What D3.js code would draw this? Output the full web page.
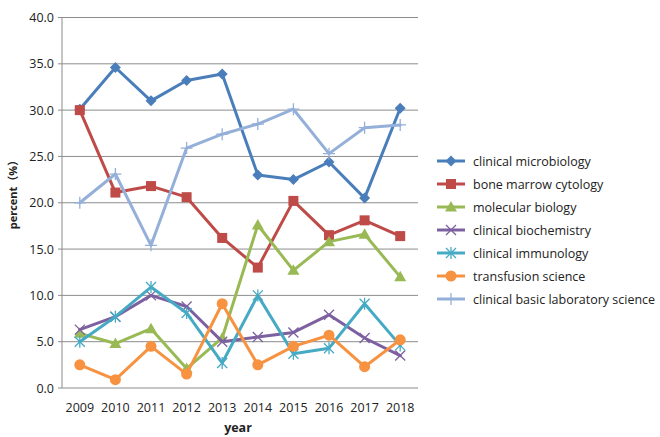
<!DOCTYPE html>
<html>
<head>
<meta charset="utf-8">
<script src="https://cdn.jsdelivr.net/npm/d3@7"></script>
<style>
  body { margin: 0; background: #fff; }
  text { font-family: "Open Sans", "DejaVu Sans", sans-serif; fill: #222; }
</style>
</head>
<body>
<div id="chart"></div>
<script>
// years on the x axis
var years = [2009, 2010, 2011, 2012, 2013, 2014, 2015, 2016, 2017, 2018];
var yTicks = [0, 5, 10, 15, 20, 25, 30, 35, 40];

// series values (percent)
var microbiology   = [30.1, 34.6, 31.0, 33.2, 33.9, 23.0, 22.5, 24.4, 20.5, 30.2];
var boneMarrow     = [30.0, 21.1, 21.8, 20.6, 16.2, 13.0, 20.2, 16.5, 18.1, 16.4];
var molecular      = [5.9, 4.8, 6.4, 2.1, 5.4, 17.6, 12.7, 15.8, 16.6, 12.0];
var biochemistry   = [6.3, 7.7, 10.0, 8.8, 5.0, 5.5, 6.0, 7.9, 5.4, 3.5];
var immunology     = [5.0, 7.7, 10.9, 8.1, 2.7, 10.0, 3.7, 4.3, 9.1, 4.6];
var transfusion    = [2.5, 0.9, 4.5, 1.5, 9.1, 2.5, 4.5, 5.7, 2.3, 5.2];
var basicLab       = [20.0, 23.1, 15.4, 25.9, 27.4, 28.5, 30.1, 25.3, 28.1, 28.4];

var seriesNames = ["clinical microbiology", "bone marrow cytology", "molecular biology",
  "clinical biochemistry", "clinical immunology", "transfusion science",
  "clinical basic laboratory science"];
var seriesValues = [microbiology, boneMarrow, molecular, biochemistry, immunology, transfusion, basicLab];
var colors = ["#4A7EBB", "#BE4B48", "#98B954", "#7D60A0", "#46AAC5", "#F69240", "#94B0D9"];
var markers = ["diamond", "square", "triangle", "x", "star", "circle", "plus"];

var W = 660, H = 437;
var plotL = 62, plotR = 418, plotT = 17.5, plotB = 388;

var svg = d3.select("#chart").append("svg").attr("width", W).attr("height", H);

var x = d3.scaleBand().domain(years).range([plotL, plotR]);
var y = d3.scaleLinear().domain([0, 40]).range([plotB, plotT]);

// gridlines
svg.selectAll(".grid").data(yTicks).enter().append("line")
  .attr("x1", plotL).attr("x2", plotR)
  .attr("y1", function (d) { return y(d); }).attr("y2", function (d) { return y(d); })
  .attr("stroke", "#8c8c8c").attr("stroke-width", 1);

// y axis line
svg.append("line").attr("x1", plotL).attr("x2", plotL).attr("y1", plotT).attr("y2", plotB)
  .attr("stroke", "#8c8c8c").attr("stroke-width", 1);
// small tick marks left of axis
svg.selectAll(".ytick").data(yTicks).enter().append("line")
  .attr("x1", plotL - 4).attr("x2", plotL)
  .attr("y1", function (d) { return y(d); }).attr("y2", function (d) { return y(d); })
  .attr("stroke", "#8c8c8c");

// y tick labels
svg.selectAll(".ylab").data(yTicks).enter().append("text")
  .attr("x", plotL - 8).attr("y", function (d) { return y(d) + 4.5; })
  .attr("text-anchor", "end").attr("font-size", 12.5)
  .text(function (d) { return d3.format(".1f")(d); });

// x tick labels
svg.selectAll(".xlab").data(years).enter().append("text")
  .attr("x", function (d) { return x(d) + x.bandwidth() / 2; }).attr("y", 412)
  .attr("text-anchor", "middle").attr("font-size", 12.5)
  .text(function (d) { return d; });

// axis titles
svg.append("text").attr("x", 238).attr("y", 432).attr("text-anchor", "middle")
  .attr("font-size", 12.5).attr("font-weight", "bold").text("year");
svg.append("text").attr("transform", "translate(17,192) rotate(-90)")
  .attr("text-anchor", "middle").attr("font-size", 11).attr("font-weight", "bold")
  .style("font-family", "'Open Sans', 'Noto Sans CJK SC', sans-serif")
  .text("percent（%）");

function drawMarker(g, type, color, cx, cy) {
  if (type === "diamond") {
    g.append("path").attr("d", "M" + cx + "," + (cy - 5.5) + "L" + (cx + 5.5) + "," + cy + "L" + cx + "," + (cy + 5.5) + "L" + (cx - 5.5) + "," + cy + "Z")
      .attr("fill", color);
  } else if (type === "square") {
    g.append("rect").attr("x", cx - 5).attr("y", cy - 5).attr("width", 10).attr("height", 10).attr("fill", color);
  } else if (type === "triangle") {
    g.append("path").attr("d", "M" + cx + "," + (cy - 6) + "L" + (cx + 6) + "," + (cy + 4.5) + "L" + (cx - 6) + "," + (cy + 4.5) + "Z")
      .attr("fill", color);
  } else if (type === "circle") {
    g.append("circle").attr("cx", cx).attr("cy", cy).attr("r", 5.5).attr("fill", color);
  } else if (type === "x" || type === "star") {
    var s = 5;
    g.append("path").attr("d", "M" + (cx - s) + "," + (cy - s) + "L" + (cx + s) + "," + (cy + s) + "M" + (cx - s) + "," + (cy + s) + "L" + (cx + s) + "," + (cy - s))
      .attr("stroke", color).attr("stroke-width", 1.3);
    if (type === "star") {
      g.append("path").attr("d", "M" + cx + "," + (cy - s - 1) + "L" + cx + "," + (cy + s + 1))
        .attr("stroke", color).attr("stroke-width", 1.3);
    }
  } else if (type === "plus") {
    var p = 6;
    g.append("path").attr("d", "M" + (cx - p) + "," + cy + "L" + (cx + p) + "," + cy + "M" + cx + "," + (cy - p) + "L" + cx + "," + (cy + p))
      .attr("stroke", color).attr("stroke-width", 1.3);
  }
}

var line = d3.line()
  .x(function (d, i) { return x(years[i]) + x.bandwidth() / 2; })
  .y(function (d) { return y(d); });

seriesValues.forEach(function (vals, k) {
  var g = svg.append("g");
  g.append("path").attr("d", line(vals)).attr("fill", "none")
    .attr("stroke", colors[k]).attr("stroke-width", 3)
    .attr("stroke-linejoin", "round").attr("stroke-linecap", "round");
  vals.forEach(function (v, i) {
    drawMarker(g, markers[k], colors[k], x(years[i]) + x.bandwidth() / 2, y(v));
  });
});

// legend
var lg = svg.append("g");
seriesNames.forEach(function (name, k) {
  var ly = 161 + k * 23;
  lg.append("line").attr("x1", 437).attr("x2", 465).attr("y1", ly).attr("y2", ly)
    .attr("stroke", colors[k]).attr("stroke-width", 3);
  drawMarker(lg, markers[k], colors[k], 451, ly);
  lg.append("text").attr("x", 473).attr("y", ly + 4.5).attr("font-size", 12.5).text(name);
});
</script>
</body>
</html>
